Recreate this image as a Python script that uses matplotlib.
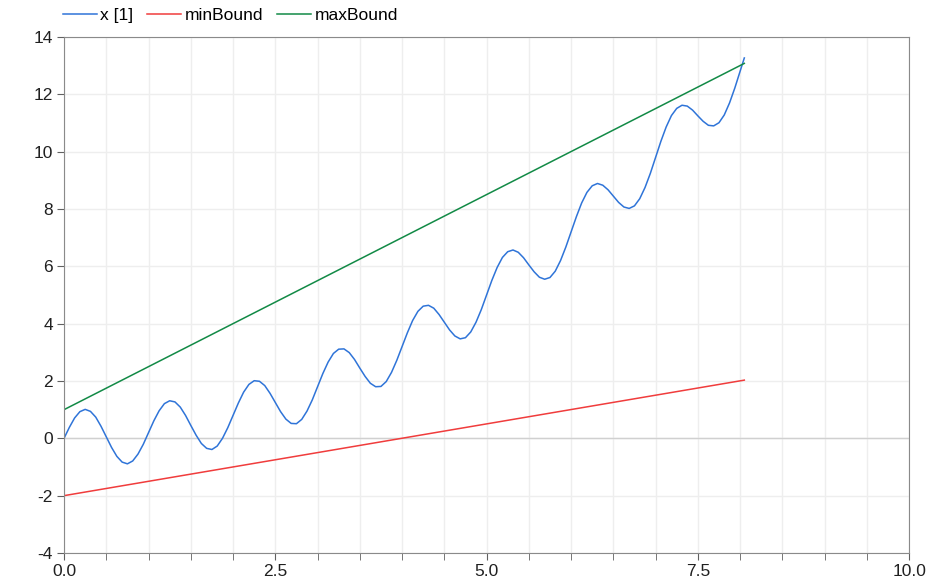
import numpy as np
import matplotlib
matplotlib.use("Agg")
import matplotlib.pyplot as plt
from matplotlib.ticker import MultipleLocator, FormatStrFormatter

# sample times of x[1] (1/16 s steps, then the final point)
time = list(np.arange(0, 8.0001, 0.0625)) + [8.05]
x1 = [
    0.00, 0.38, 0.71, 0.93, 1.01, 0.94, 0.74, 0.42, 0.05, -0.32, -0.63, -0.83, -0.89, -0.79, -0.55, -0.21,
    0.20, 0.61, 0.96, 1.21, 1.31, 1.27, 1.09, 0.80, 0.45, 0.11, -0.18, -0.35, -0.39, -0.27, 0.00, 0.37,
    0.80, 1.23, 1.61, 1.88, 2.01, 1.99, 1.84, 1.57, 1.25, 0.93, 0.67, 0.52, 0.51, 0.66, 0.95, 1.34,
    1.80, 2.26, 2.66, 2.96, 3.11, 3.12, 2.99, 2.75, 2.45, 2.16, 1.92, 1.80, 1.81, 1.98, 2.30, 2.72,
    3.20, 3.68, 4.11, 4.43, 4.61, 4.64, 4.54, 4.32, 4.05, 3.78, 3.57, 3.47, 3.51, 3.71, 4.05, 4.49,
    5.00, 5.51, 5.96, 6.31, 6.51, 6.57, 6.49, 6.30, 6.05, 5.81, 5.62, 5.55, 5.61, 5.83, 6.20, 6.67,
    7.20, 7.73, 8.21, 8.58, 8.81, 8.89, 8.83, 8.67, 8.45, 8.23, 8.07, 8.02, 8.11, 8.36, 8.75, 9.24,
    9.80, 10.36, 10.86, 11.26, 11.51, 11.62, 11.59, 11.45, 11.25, 11.06, 10.92, 10.90, 11.01, 11.28, 11.70, 12.22,
    12.80, 13.27,
]

bound_t = [0.0, 8.05]
min_bound = [-2.0, 2.03]
max_bound = [1.0, 13.08]

plt.rcParams["font.family"] = ["Liberation Sans", "DejaVu Sans"]
plt.rcParams["axes.unicode_minus"] = False

fig = plt.figure(figsize=(9.46, 5.83), dpi=100)
ax = fig.add_axes([0.0677, 0.0515, 0.8933, 0.885])

ax.plot(time, x1, color="#2f74d8", lw=1.1, label="x [1]")
ax.plot(bound_t, min_bound, color="#f03c3c", lw=1.1, label="minBound")
ax.plot(bound_t, max_bound, color="#128a46", lw=1.1, label="maxBound")

ax.set_xlim(0, 10)
ax.set_ylim(-4, 14)
ax.xaxis.set_major_locator(MultipleLocator(2.5))
ax.xaxis.set_minor_locator(MultipleLocator(0.5))
ax.xaxis.set_major_formatter(FormatStrFormatter("%.1f"))
ax.yaxis.set_major_locator(MultipleLocator(2))

ax.grid(which="both", axis="x", color="#eeeeee", lw=1)
ax.grid(which="major", axis="y", color="#eeeeee", lw=1)
ax.axhline(0, color="#d0d0d0", lw=1, zorder=1)
ax.set_axisbelow(True)

for s in ax.spines.values():
    s.set_color("#8a8a8a")
ax.tick_params(which="both", direction="out", length=5, color="#606060",
               labelsize=12.5, labelcolor="#202020", pad=3)

fig.legend(loc="center left", bbox_to_anchor=(0.0666, 0.974), ncol=3, frameon=False,
           fontsize=12.5, handlelength=1.95, columnspacing=0.8, handletextpad=0.2,
           borderpad=0, borderaxespad=0)

fig.savefig("out.png", dpi=100)
